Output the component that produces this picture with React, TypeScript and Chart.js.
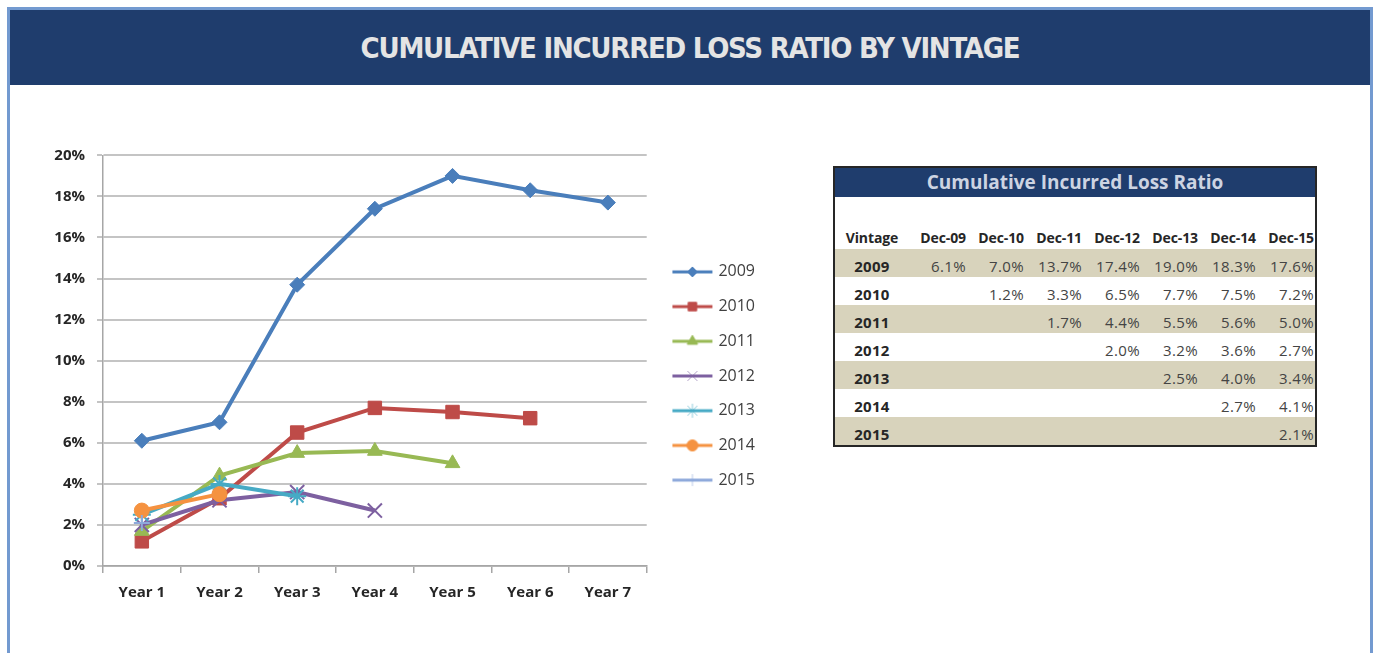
import React, { useEffect, useRef } from 'react';
import { Chart, registerables } from 'chart.js';
import { drawPoint } from 'chart.js/helpers';

Chart.register(...registerables);

// ---------- DATA ----------
const categories = ['Year 1', 'Year 2', 'Year 3', 'Year 4', 'Year 5', 'Year 6', 'Year 7'];
const vintages = ['2009', '2010', '2011', '2012', '2013', '2014', '2015'];

const loss2009 = [6.1, 7.0, 13.7, 17.4, 19.0, 18.3, 17.7];
const loss2010 = [1.2, 3.3, 6.5, 7.7, 7.5, 7.2];
const loss2011 = [1.7, 4.4, 5.5, 5.6, 5.0];
const loss2012 = [2.0, 3.2, 3.6, 2.7];
const loss2013 = [2.5, 4.0, 3.4];
const loss2014 = [2.7, 3.5];
const loss2015 = [2.1];

const yMin = 0;
const yMax = 20;
const yStep = 2;

const tableTitle = 'Cumulative Incurred Loss Ratio';
const tableColumns = ['Dec-09', 'Dec-10', 'Dec-11', 'Dec-12', 'Dec-13', 'Dec-14', 'Dec-15'];
const table2009 = [6.1, 7.0, 13.7, 17.4, 19.0, 18.3, 17.6];
const table2010 = [1.2, 3.3, 6.5, 7.7, 7.5, 7.2];
const table2011 = [1.7, 4.4, 5.5, 5.6, 5.0];
const table2012 = [2.0, 3.2, 3.6, 2.7];
const table2013 = [2.5, 4.0, 3.4];
const table2014 = [2.7, 4.1];
const table2015 = [2.1];

const chartTitle = 'CUMULATIVE INCURRED LOSS RATIO BY VINTAGE';

// ---------- STYLE ----------
const seriesValues = [loss2009, loss2010, loss2011, loss2012, loss2013, loss2014, loss2015];
const tableValues = [table2009, table2010, table2011, table2012, table2013, table2014, table2015];
const seriesColors = ['#4A7EBB', '#BE4B48', '#98B954', '#7D60A0', '#46AAC5', '#F59240', '#8EA9DB'];
const seriesPointStyles = ['rectRot', 'rect', 'triangle', 'crossRot', 'star', 'circle', 'cross'];
const seriesRadius = [7.5, 9.5, 8.5, 10, 9, 7.5, 8];
const seriesPointBorder = [1, 1, 1, 2, 2, 1, 2];
const legendRadius = [5, 6, 6, 7, 7, 5.5, 6];

const FONT = "'Open Sans', 'Liberation Sans', sans-serif";

function makeLegendIcon(color: string, style: string, radius: number) {
  const c = document.createElement('canvas');
  c.width = 42;
  c.height = 18;
  const ctx = c.getContext('2d')!;
  ctx.strokeStyle = color;
  ctx.lineWidth = 3;
  ctx.beginPath();
  ctx.moveTo(1, 9);
  ctx.lineTo(41, 9);
  ctx.stroke();
  ctx.fillStyle = color;
  ctx.strokeStyle = color;
  const thin = style === 'crossRot' || style === 'star' || style === 'cross';
  ctx.lineWidth = 1;
  if (thin) ctx.globalAlpha = 0.6;
  drawPoint(ctx, { pointStyle: style as any, radius, rotation: 0, borderWidth: ctx.lineWidth }, 21, 9);
  return c;
}

function LineChart() {
  const ref = useRef<HTMLCanvasElement>(null);
  useEffect(() => {
    if (!ref.current) return;
    const icons = seriesColors.map((col, i) => makeLegendIcon(col, seriesPointStyles[i], legendRadius[i]));
    const datasets = vintages.map((v, i) => ({
      label: v,
      data: seriesValues[i],
      borderColor: seriesColors[i],
      backgroundColor: seriesColors[i],
      borderWidth: 4,
      pointStyle: seriesPointStyles[i] as any,
      pointRadius: seriesRadius[i],
      pointBorderWidth: seriesPointBorder[i],
      pointBackgroundColor: seriesColors[i],
      pointBorderColor: seriesColors[i],
      tension: 0,
      fill: false,
      order: vintages.length - i,
    }));
    const chart = new Chart(ref.current, {
      type: 'line',
      data: { labels: categories, datasets },
      options: {
        animation: false,
        responsive: false,
        maintainAspectRatio: false,
        layout: { padding: { top: 5, bottom: 20, left: 0, right: 0 } },
        plugins: {
          tooltip: { enabled: false },
          legend: {
            position: 'right',
            align: 'center',
            labels: {
              usePointStyle: true,
              pointStyleWidth: 36,
              padding: 18.7,
              color: '#404040',
              font: { family: FONT, size: 16 },
              sort: (a: any, b: any) => a.datasetIndex - b.datasetIndex,
              generateLabels: (ch: any) =>
                ch.data.datasets.map((ds: any, i: number) => ({
                  text: ds.label,
                  datasetIndex: i,
                  pointStyle: icons[i],
                  fillStyle: ds.borderColor,
                  strokeStyle: ds.borderColor,
                  lineWidth: 0,
                  hidden: false,
                  fontColor: '#404040',
                })),
            },
          },
        },
        scales: {
          x: {
            offset: true,
            grid: { offset: true, drawOnChartArea: false, drawTicks: true, tickLength: 7, color: '#A6A6A6', lineWidth: 1.5 },
            border: { color: '#A6A6A6', width: 1.5 },
            ticks: { color: '#262626', font: { family: FONT, size: 15, weight: 'bold' }, padding: 11 },
            afterFit: (s: any) => { s.height = 41; },
          },
          y: {
            min: yMin,
            max: yMax,
            ticks: {
              stepSize: yStep,
              color: '#262626',
              font: { family: FONT, size: 15, weight: 'bold', lineHeight: 0.45 },
              padding: 12,
              callback: (v: any) => v + '%',
            },
            grid: { color: '#C4C4C4', lineWidth: 2, tickLength: 6 },
            border: { color: '#A6A6A6', width: 1.5 },
            afterFit: (s: any) => { s.width = 63; },
          },
          yr: {
            type: 'linear',
            position: 'right',
            display: true,
            min: 0,
            max: 1,
            grid: { display: false },
            ticks: { display: false },
            border: { display: false },
            afterFit: (s: any) => { s.width = 9; },
          },
        },
      } as any,
    });
    return () => chart.destroy();
  }, []);
  return <canvas ref={ref} width={725} height={487} style={{ width: 725, height: 487 }} />;
}

function LossTable() {
  const colW = 58;
  const firstW = 74;
  const rowH = 28;
  return (
    <div
      style={{
        position: 'absolute',
        left: 833,
        top: 166,
        width: 480,
        border: '2px solid #262626',
        background: '#fff',
        fontFamily: FONT,
        color: '#2b2b2b',
      }}
    >
      <div
        style={{
          background: '#1F3D6D',
          color: '#CDD4E2',
          height: 29,
          lineHeight: '29px',
          textAlign: 'center',
          fontWeight: 700,
          fontSize: 19,
        }}
      >
        {tableTitle}
      </div>
      <div style={{ height: 52, position: 'relative' }}>
        <div style={{ position: 'absolute', top: 31, left: 0, display: 'flex', fontWeight: 700, fontSize: 14, letterSpacing: -0.1, color: '#262626' }}>
          <div style={{ width: firstW, textAlign: 'center' }}>Vintage</div>
          {tableColumns.map((c) => (
            <div key={c} style={{ width: colW, textAlign: 'right', paddingRight: 1, boxSizing: 'border-box', whiteSpace: 'nowrap' }}>
              {c}
            </div>
          ))}
        </div>
      </div>
      {vintages.map((v, r) => {
        const vals = tableValues[r];
        const blanks = tableColumns.length - vals.length;
        return (
          <div
            key={v}
            style={{
              display: 'flex',
              height: rowH,
              background: r % 2 === 0 ? '#D8D3BC' : '#ffffff',
              fontSize: 15,
              alignItems: 'center',
              paddingTop: 6,
              boxSizing: 'border-box',
              whiteSpace: 'nowrap',
            }}
          >
            <div style={{ width: firstW, textAlign: 'center', fontWeight: 700, letterSpacing: 0.3, color: '#262626' }}>{v}</div>
            {tableColumns.map((c, ci) => (
              <div key={c} style={{ width: colW, textAlign: 'right', paddingRight: 1, boxSizing: 'border-box', color: '#444', letterSpacing: 0.4 }}>
                {ci >= blanks ? vals[ci - blanks].toFixed(1) + '%' : ''}
              </div>
            ))}
          </div>
        );
      })}
    </div>
  );
}

export default function App() {
  return (
    <div style={{ position: 'absolute', left: 0, top: 0, width: 1376, height: 653, overflow: 'hidden', background: '#fff' }}>
      <div
        style={{
          position: 'absolute',
          left: 7,
          top: 7,
          width: 1360,
          height: 660,
          border: '3px solid #739AD0',
          background: '#fff',
        }}
      >
        <div
          style={{
            height: 75,
            background: '#1F3D6D',
            color: '#E4E4E4',
            display: 'flex',
            alignItems: 'center',
            justifyContent: 'center',
            fontFamily: "'DejaVu Sans', sans-serif",
            fontStretch: 'condensed',
            fontWeight: 700,
            fontSize: 29,
            letterSpacing: -1.25,
          }}
        >
          {chartTitle}
        </div>
      </div>
      <div style={{ position: 'absolute', left: 40, top: 140 }}>
        <LineChart />
      </div>
      <LossTable />
    </div>
  );
}
